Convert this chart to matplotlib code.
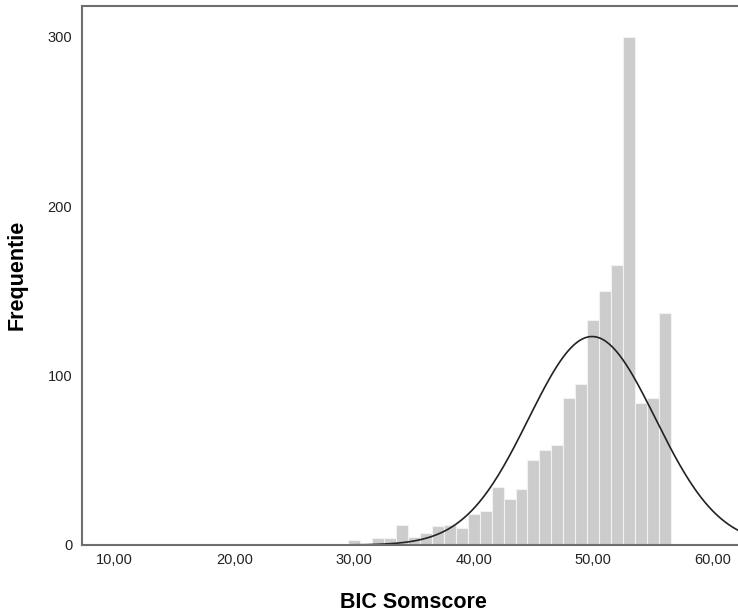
import matplotlib
matplotlib.use("Agg")
import matplotlib.pyplot as plt
import numpy as np

# histogram counts per score (bins of width 1, centred on whole scores)
scores = [30, 31, 32, 33, 34, 35, 36, 37, 38, 39, 40, 41, 42, 43,
          44, 45, 46, 47, 48, 49, 50, 51, 52, 53, 54, 55, 56]
counts = [3, 0, 4, 4, 12, 5, 7, 11, 12, 10, 18, 20, 34, 27,
          33, 50, 56, 59, 87, 95, 133, 150, 165, 300, 84, 87, 137]

# normal curve parameters
curve_mean = 49.9
curve_sd = 5.3
curve_n = 1634

xticks = [10, 20, 30, 40, 50, 60]
xtick_labels = ["10,00", "20,00", "30,00", "40,00", "50,00", "60,00"]
yticks = [0, 100, 200, 300]

plt.rcParams['font.family'] = ['Liberation Sans', 'DejaVu Sans']

fig = plt.figure(figsize=(7.38, 6.16), dpi=100)
ax = fig.add_axes([82 / 738, 71 / 616, 656 / 738, 539 / 616])

ax.bar(scores, counts, width=1.0, color='#cccccc', edgecolor='#f2f2f2', linewidth=0.8)

xs = np.linspace(7.0, 63.0, 400)
ys = curve_n * 1.0 / (curve_sd * np.sqrt(2 * np.pi)) * np.exp(-(xs - curve_mean) ** 2 / (2 * curve_sd ** 2))
ax.plot(xs, ys, color='#222222', linewidth=1.2)

ax.set_xlim(7.26, 62.1)
ax.set_ylim(0, 318)
ax.set_xticks(xticks)
ax.set_xticklabels(xtick_labels)
ax.set_yticks(yticks)
ax.tick_params(length=0, labelsize=10.5, colors='#222222')
ax.tick_params(axis='x', pad=6)
ax.tick_params(axis='y', pad=7)

for side in ['left', 'bottom', 'top']:
    ax.spines[side].set_color('#6e6e6e')
    ax.spines[side].set_linewidth(1.5)
ax.spines['right'].set_visible(False)

fig.text(413 / 738, 1 - 602 / 616, "BIC Somscore", fontsize=15.5, fontweight='bold',
         ha='center', va='center')
fig.text(17 / 738, 1 - 275 / 616, "Frequentie", fontsize=15.5, fontweight='bold',
         ha='center', va='center', rotation=90)

fig.savefig("out.png", dpi=100)
